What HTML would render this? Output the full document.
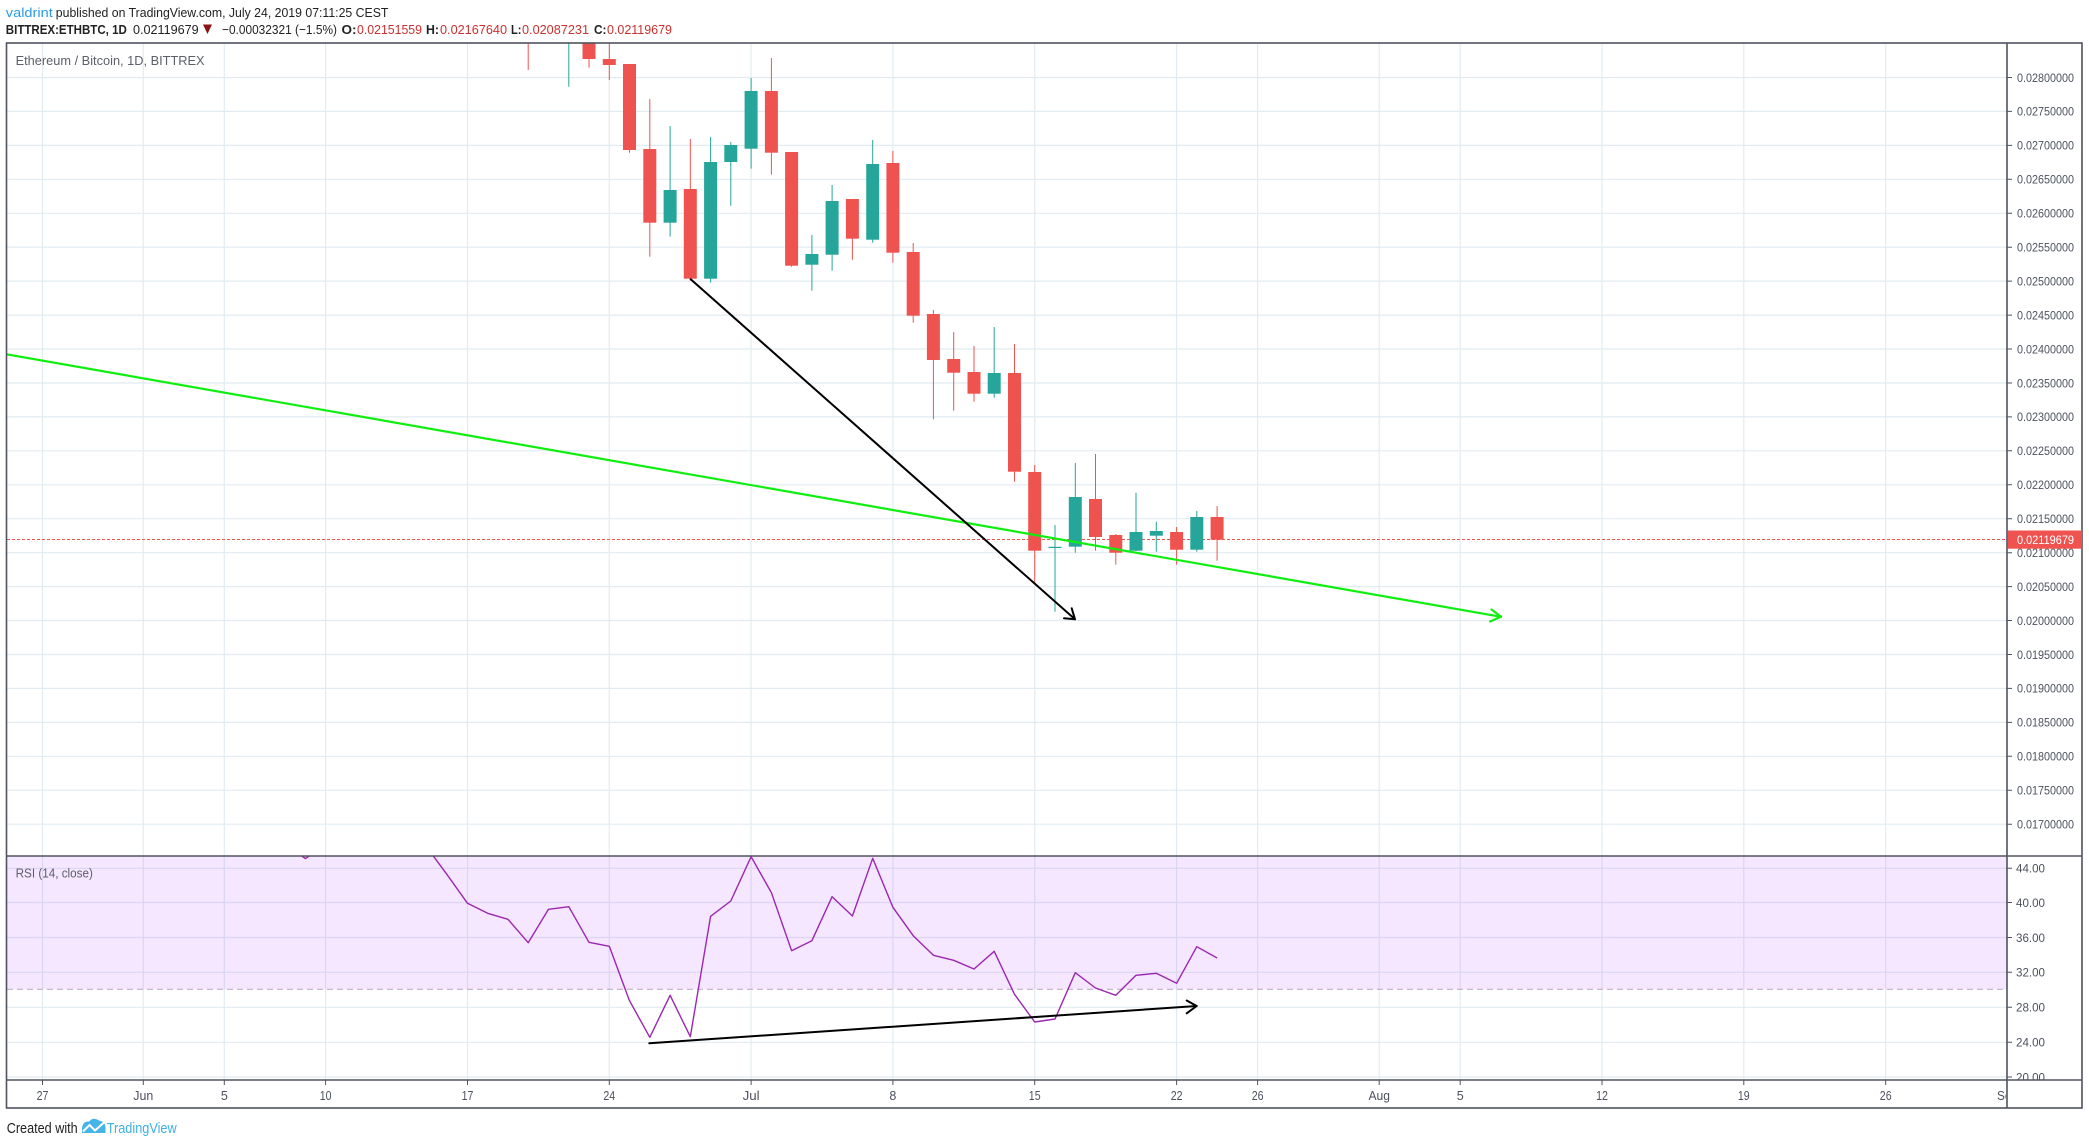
<!DOCTYPE html>
<html><head><meta charset="utf-8"><style>
html,body{margin:0;padding:0;background:#fff;}
svg{display:block;}
text{font-family:"Liberation Sans",sans-serif;}
</style></head><body>
<svg width="2089" height="1145" viewBox="0 0 2089 1145" xmlns="http://www.w3.org/2000/svg">
<defs>
<clipPath id="cp"><rect x="7" y="43.5" width="2000" height="812.5"/></clipPath>
<clipPath id="cr"><rect x="7" y="856.5" width="2000" height="223.5"/></clipPath>
<clipPath id="ct"><rect x="7" y="1080" width="1999" height="28"/></clipPath>
<clipPath id="cra"><rect x="2008" y="856.5" width="74" height="223.5"/></clipPath>
</defs>
<rect width="2089" height="1145" fill="#fff"/>

<!-- header -->
<text x="5.8" y="17" font-size="13" fill="#2b9be6" textLength="47" lengthAdjust="spacingAndGlyphs">valdrint</text>
<text x="55.8" y="17" font-size="13" fill="#222" textLength="332.6" lengthAdjust="spacingAndGlyphs">published on TradingView.com, July 24, 2019 07:11:25 CEST</text>
<text x="5.8" y="34" font-size="13" font-weight="bold" fill="#222" textLength="121" lengthAdjust="spacingAndGlyphs">BITTREX:ETHBTC, 1D</text>
<text x="133" y="34" font-size="13" fill="#222" textLength="65.7" lengthAdjust="spacingAndGlyphs">0.02119679</text>
<polygon points="203,24.5 212,24.5 207.5,34" fill="#8b1414"/>
<text x="222" y="34" font-size="13" fill="#222" textLength="115" lengthAdjust="spacingAndGlyphs">−0.00032321 (−1.5%)</text>
<text x="341.5" y="34" font-size="13" font-weight="bold" fill="#222" textLength="15" lengthAdjust="spacingAndGlyphs">O:</text>
<text x="357" y="34" font-size="13" fill="#cc2f2f" textLength="65" lengthAdjust="spacingAndGlyphs">0.02151559</text>
<text x="426" y="34" font-size="13" font-weight="bold" fill="#222" textLength="13" lengthAdjust="spacingAndGlyphs">H:</text>
<text x="440" y="34" font-size="13" fill="#cc2f2f" textLength="67" lengthAdjust="spacingAndGlyphs">0.02167640</text>
<text x="511" y="34" font-size="13" font-weight="bold" fill="#222" textLength="10.5" lengthAdjust="spacingAndGlyphs">L:</text>
<text x="522" y="34" font-size="13" fill="#cc2f2f" textLength="67" lengthAdjust="spacingAndGlyphs">0.02087231</text>
<text x="594" y="34" font-size="13" font-weight="bold" fill="#222" textLength="12.5" lengthAdjust="spacingAndGlyphs">C:</text>
<text x="607" y="34" font-size="13" fill="#cc2f2f" textLength="65" lengthAdjust="spacingAndGlyphs">0.02119679</text>

<!-- grid price pane -->
<g stroke="#e1ecf2" stroke-width="1.2" clip-path="url(#cp)">
<line x1="7" x2="2007" y1="77.5" y2="77.5"/><line x1="7" x2="2007" y1="111.4" y2="111.4"/><line x1="7" x2="2007" y1="145.4" y2="145.4"/><line x1="7" x2="2007" y1="179.3" y2="179.3"/><line x1="7" x2="2007" y1="213.3" y2="213.3"/><line x1="7" x2="2007" y1="247.2" y2="247.2"/><line x1="7" x2="2007" y1="281.1" y2="281.1"/><line x1="7" x2="2007" y1="315.1" y2="315.1"/><line x1="7" x2="2007" y1="349" y2="349"/><line x1="7" x2="2007" y1="383" y2="383"/><line x1="7" x2="2007" y1="416.9" y2="416.9"/><line x1="7" x2="2007" y1="450.8" y2="450.8"/><line x1="7" x2="2007" y1="484.8" y2="484.8"/><line x1="7" x2="2007" y1="518.7" y2="518.7"/><line x1="7" x2="2007" y1="552.7" y2="552.7"/><line x1="7" x2="2007" y1="586.6" y2="586.6"/><line x1="7" x2="2007" y1="620.5" y2="620.5"/><line x1="7" x2="2007" y1="654.5" y2="654.5"/><line x1="7" x2="2007" y1="688.4" y2="688.4"/><line x1="7" x2="2007" y1="722.4" y2="722.4"/><line x1="7" x2="2007" y1="756.3" y2="756.3"/><line x1="7" x2="2007" y1="790.2" y2="790.2"/><line x1="7" x2="2007" y1="824.2" y2="824.2"/>
</g>
<g stroke="#e1ecf2" stroke-width="1.2">
<path d="M42.5 43V1080M143.3 43V1080M224.3 43V1080M325.6 43V1080M467.5 43V1080M609.3 43V1080M751.1 43V1080M892.9 43V1080M1034.7 43V1080M1176.6 43V1080M1257.6 43V1080M1379.2 43V1080M1460.2 43V1080M1602 43V1080M1743.8 43V1080M1885.7 43V1080"/>
</g>
<!-- RSI grid -->
<g stroke="#e1ecf2" stroke-width="1.2">
<line x1="7" x2="2007" y1="868.3" y2="868.3"/><line x1="7" x2="2007" y1="902.5" y2="902.5"/><line x1="7" x2="2007" y1="937.5" y2="937.5"/><line x1="7" x2="2007" y1="972.3" y2="972.3"/><line x1="7" x2="2007" y1="1007.3" y2="1007.3"/><line x1="7" x2="2007" y1="1042.3" y2="1042.3"/><line x1="7" x2="2007" y1="1077" y2="1077"/>
</g>
<rect x="7" y="856.5" width="2000" height="132.8" fill="rgb(153,21,255)" fill-opacity="0.1"/>
<line x1="7" x2="2007" y1="989.3" y2="989.3" stroke="#bfb0c6" stroke-width="1.2" stroke-dasharray="6 4"/>

<!-- price line -->
<line x1="7" x2="2007" y1="539.5" y2="539.5" stroke="#ef5350" stroke-width="1" stroke-dasharray="3 2"/>

<!-- candles -->
<g clip-path="url(#cp)">
<g fill="#ef5350">
<rect x="527.7" y="0" width="1" height="70"/><rect x="521.7" y="0" width="13" height="30"/>
<rect x="588.5" y="0" width="1" height="67.7"/><rect x="582.5" y="0" width="13" height="59"/>
<rect x="608.8" y="0" width="1" height="80"/><rect x="602.8" y="59" width="13" height="6"/>
<rect x="629" y="64" width="1" height="88.7"/><rect x="623" y="64" width="13" height="86"/>
<rect x="649.3" y="99" width="1" height="157.7"/><rect x="643.3" y="149" width="13" height="73.7"/>
<rect x="689.8" y="139" width="1" height="141.7"/><rect x="683.8" y="189" width="13" height="89.7"/>
<rect x="770.9" y="58" width="1" height="116.7"/><rect x="764.9" y="91" width="13" height="61.7"/>
<rect x="791.1" y="152" width="1" height="114.7"/><rect x="785.1" y="152" width="13" height="113.7"/>
<rect x="851.9" y="199" width="1" height="60.7"/><rect x="845.9" y="199" width="13" height="39.7"/>
<rect x="892.4" y="151" width="1" height="111.7"/><rect x="886.4" y="163" width="13" height="89.7"/>
<rect x="912.7" y="243" width="1" height="79.7"/><rect x="906.7" y="252" width="13" height="63.7"/>
<rect x="932.9" y="310" width="1" height="109.3"/><rect x="926.9" y="314" width="13" height="46"/>
<rect x="953.2" y="332" width="1" height="78.7"/><rect x="947.2" y="359" width="13" height="13.7"/>
<rect x="973.5" y="346" width="1" height="55.7"/><rect x="967.5" y="372" width="13" height="21.7"/>
<rect x="1014" y="344" width="1" height="137.7"/><rect x="1008" y="373" width="13" height="98.7"/>
<rect x="1034.2" y="465" width="1" height="118.3"/><rect x="1028.2" y="472" width="13" height="78.7"/>
<rect x="1095" y="454" width="1" height="96.7"/><rect x="1089" y="499" width="13" height="38"/>
<rect x="1115.3" y="534" width="1" height="30.7"/><rect x="1109.3" y="535" width="13" height="17.7"/>
<rect x="1176.1" y="527" width="1" height="37.7"/><rect x="1170.1" y="532" width="13" height="17.7"/>
<rect x="1216.6" y="506" width="1" height="54.7"/><rect x="1210.6" y="517" width="13" height="22.7"/>
</g>
<g fill="#26a69a">
<rect x="568.3" y="0" width="1" height="86.7"/><rect x="562.3" y="0" width="13" height="35"/>
<rect x="669.6" y="126" width="1" height="110.7"/><rect x="663.6" y="190" width="13" height="32.7"/>
<rect x="710.1" y="137" width="1" height="145.7"/><rect x="704.1" y="162" width="13" height="116.7"/>
<rect x="730.3" y="142" width="1" height="63.7"/><rect x="724.3" y="145" width="13" height="17"/>
<rect x="750.6" y="78" width="1" height="90.7"/><rect x="744.6" y="91" width="13" height="57.7"/>
<rect x="811.4" y="235" width="1" height="55.7"/><rect x="805.4" y="254" width="13" height="10.7"/>
<rect x="831.6" y="185" width="1" height="85.7"/><rect x="825.6" y="201" width="13" height="53.7"/>
<rect x="872.2" y="140" width="1" height="102.7"/><rect x="866.2" y="164" width="13" height="75.7"/>
<rect x="993.7" y="327" width="1" height="70.7"/><rect x="987.7" y="373" width="13" height="20.7"/>
<rect x="1054.5" y="525" width="1" height="86.7"/><rect x="1048.5" y="546.8" width="13" height="1.2"/>
<rect x="1074.8" y="463" width="1" height="89.7"/><rect x="1068.8" y="497" width="13" height="49.7"/>
<rect x="1135.5" y="492.7" width="1" height="58.3"/><rect x="1129.5" y="532" width="13" height="18.7"/>
<rect x="1155.8" y="521.7" width="1" height="30"/><rect x="1149.8" y="531" width="13" height="4.7"/>
<rect x="1196.3" y="511" width="1" height="40.7"/><rect x="1190.3" y="517" width="13" height="32.7"/>
</g>
<!-- green trend line -->
<g stroke="#0fef0f" stroke-width="2.2" fill="none" stroke-linecap="round" stroke-linejoin="round">
<line x1="0" y1="353.2" x2="1501" y2="616.8"/>
<polyline points="1491.5,609.5 1501,616.8 1490,621.5"/>
</g>
<!-- black arrow -->
<g stroke="#000" stroke-width="2" fill="none" stroke-linecap="round" stroke-linejoin="round">
<line x1="690.7" y1="279.3" x2="1075" y2="619.3"/>
<polyline points="1064,618.3 1075,619.3 1071.7,608.3"/>
</g>
</g>

<!-- RSI line -->
<g clip-path="url(#cr)">
<polyline fill="none" stroke="#9c27b0" stroke-width="1.4" stroke-linejoin="round" points="285.1,845 305.4,858.5 325.6,845 345.9,840 366.2,840 386.4,840 406.7,840 426.9,847.4 447.2,874.8 467.5,903.3 487.7,913.3 508,919.3 528.2,942.7 548.5,909.3 568.8,906.7 589,942.3 609.3,946.3 629.5,1000.7 649.8,1037.3 670.1,995.3 690.3,1036.7 710.6,916.3 730.8,901 751.1,856.7 771.4,892.7 791.6,950.7 811.9,940.7 832.1,896.7 852.4,916 872.7,858.3 892.9,907.3 913.2,935.7 933.4,955.3 953.7,960.3 974,969 994.2,951.3 1014.5,994.3 1034.7,1022 1055,1019 1075.3,972.7 1095.5,988 1115.8,995.3 1136,975.3 1156.3,973.3 1176.6,983.3 1196.8,946.7 1217.1,958"/>
<g stroke="#000" stroke-width="2" fill="none" stroke-linecap="round" stroke-linejoin="round">
<line x1="649.3" y1="1043.3" x2="1196.7" y2="1006"/>
<polyline points="1186.7,1000.5 1196.7,1006 1186.7,1013.3"/>
</g>
</g>

<text x="15.6" y="65" font-size="13" fill="#5d606b" textLength="189" lengthAdjust="spacingAndGlyphs">Ethereum / Bitcoin, 1D, BITTREX</text>
<text x="15.6" y="877.5" font-size="12.5" fill="#5d606b" textLength="77.3" lengthAdjust="spacingAndGlyphs">RSI (14, close)</text>

<!-- frame -->
<g stroke="#50535e" stroke-width="1.6" fill="none">
<rect x="6.5" y="43" width="2075.5" height="1065"/>
<line x1="2007" y1="43" x2="2007" y2="1108"/>
<line x1="6.5" y1="856" x2="2082" y2="856"/>
<line x1="6.5" y1="1080" x2="2082" y2="1080"/>
</g>

<!-- price axis ticks & labels -->
<g stroke="#50535e" stroke-width="1">
<path d="M2007 77.5h5M2007 111.4h5M2007 145.4h5M2007 179.3h5M2007 213.3h5M2007 247.2h5M2007 281.1h5M2007 315.1h5M2007 349h5M2007 383h5M2007 416.9h5M2007 450.8h5M2007 484.8h5M2007 518.7h5M2007 552.7h5M2007 586.6h5M2007 620.5h5M2007 654.5h5M2007 688.4h5M2007 722.4h5M2007 756.3h5M2007 790.2h5M2007 824.2h5"/>
<path d="M2007 868.3h5M2007 902.5h5M2007 937.5h5M2007 972.3h5M2007 1007.3h5M2007 1042.3h5M2007 1077h5"/>
<path d="M42.5 1080v5M143.3 1080v5M224.3 1080v5M325.6 1080v5M467.5 1080v5M609.3 1080v5M751.1 1080v5M892.9 1080v5M1034.7 1080v5M1176.6 1080v5M1257.6 1080v5M1379.2 1080v5M1460.2 1080v5M1602 1080v5M1743.8 1080v5M1885.7 1080v5"/>
</g>
<g font-size="12" fill="#4c525e">
<text x="2017" y="81.8" textLength="57" lengthAdjust="spacingAndGlyphs">0.02800000</text>
<text x="2017" y="115.7" textLength="57" lengthAdjust="spacingAndGlyphs">0.02750000</text>
<text x="2017" y="149.7" textLength="57" lengthAdjust="spacingAndGlyphs">0.02700000</text>
<text x="2017" y="183.6" textLength="57" lengthAdjust="spacingAndGlyphs">0.02650000</text>
<text x="2017" y="217.6" textLength="57" lengthAdjust="spacingAndGlyphs">0.02600000</text>
<text x="2017" y="251.5" textLength="57" lengthAdjust="spacingAndGlyphs">0.02550000</text>
<text x="2017" y="285.4" textLength="57" lengthAdjust="spacingAndGlyphs">0.02500000</text>
<text x="2017" y="319.4" textLength="57" lengthAdjust="spacingAndGlyphs">0.02450000</text>
<text x="2017" y="353.3" textLength="57" lengthAdjust="spacingAndGlyphs">0.02400000</text>
<text x="2017" y="387.3" textLength="57" lengthAdjust="spacingAndGlyphs">0.02350000</text>
<text x="2017" y="421.2" textLength="57" lengthAdjust="spacingAndGlyphs">0.02300000</text>
<text x="2017" y="455.1" textLength="57" lengthAdjust="spacingAndGlyphs">0.02250000</text>
<text x="2017" y="489.1" textLength="57" lengthAdjust="spacingAndGlyphs">0.02200000</text>
<text x="2017" y="523" textLength="57" lengthAdjust="spacingAndGlyphs">0.02150000</text>
<text x="2017" y="557" textLength="57" lengthAdjust="spacingAndGlyphs">0.02100000</text>
<text x="2017" y="590.9" textLength="57" lengthAdjust="spacingAndGlyphs">0.02050000</text>
<text x="2017" y="624.8" textLength="57" lengthAdjust="spacingAndGlyphs">0.02000000</text>
<text x="2017" y="658.8" textLength="57" lengthAdjust="spacingAndGlyphs">0.01950000</text>
<text x="2017" y="692.7" textLength="57" lengthAdjust="spacingAndGlyphs">0.01900000</text>
<text x="2017" y="726.7" textLength="57" lengthAdjust="spacingAndGlyphs">0.01850000</text>
<text x="2017" y="760.6" textLength="57" lengthAdjust="spacingAndGlyphs">0.01800000</text>
<text x="2017" y="794.5" textLength="57" lengthAdjust="spacingAndGlyphs">0.01750000</text>
<text x="2017" y="828.5" textLength="57" lengthAdjust="spacingAndGlyphs">0.01700000</text>
</g>
<rect x="2007.5" y="530.5" width="74.5" height="18.2" fill="#ef5350"/>
<text x="2017" y="544" font-size="12" fill="#fff" textLength="57" lengthAdjust="spacingAndGlyphs">0.02119679</text>

<g font-size="12" fill="#4c525e" clip-path="url(#cra)">
<text x="2016" y="872.6" textLength="29" lengthAdjust="spacingAndGlyphs">44.00</text>
<text x="2016" y="906.8" textLength="29" lengthAdjust="spacingAndGlyphs">40.00</text>
<text x="2016" y="941.8" textLength="29" lengthAdjust="spacingAndGlyphs">36.00</text>
<text x="2016" y="976.6" textLength="29" lengthAdjust="spacingAndGlyphs">32.00</text>
<text x="2016" y="1011.6" textLength="29" lengthAdjust="spacingAndGlyphs">28.00</text>
<text x="2016" y="1046.6" textLength="29" lengthAdjust="spacingAndGlyphs">24.00</text>
<text x="2016" y="1081.3" textLength="29" lengthAdjust="spacingAndGlyphs">20.00</text>
</g>

<!-- time labels -->
<g font-size="12.5" fill="#4c525e" text-anchor="middle" clip-path="url(#ct)">
<text x="42.5" y="1100" textLength="11.8" lengthAdjust="spacingAndGlyphs">27</text>
<text x="143.3" y="1100" textLength="20" lengthAdjust="spacingAndGlyphs">Jun</text>
<text x="224.3" y="1100">5</text>
<text x="325.6" y="1100" textLength="11.8" lengthAdjust="spacingAndGlyphs">10</text>
<text x="467.5" y="1100" textLength="11.8" lengthAdjust="spacingAndGlyphs">17</text>
<text x="609.3" y="1100" textLength="11.8" lengthAdjust="spacingAndGlyphs">24</text>
<text x="751.1" y="1100" textLength="17" lengthAdjust="spacingAndGlyphs">Jul</text>
<text x="892.9" y="1100">8</text>
<text x="1034.7" y="1100" textLength="11.8" lengthAdjust="spacingAndGlyphs">15</text>
<text x="1176.6" y="1100" textLength="11.8" lengthAdjust="spacingAndGlyphs">22</text>
<text x="1257.6" y="1100" textLength="11.8" lengthAdjust="spacingAndGlyphs">26</text>
<text x="1379.2" y="1100" textLength="21.5" lengthAdjust="spacingAndGlyphs">Aug</text>
<text x="1460.2" y="1100">5</text>
<text x="1602" y="1100" textLength="11.8" lengthAdjust="spacingAndGlyphs">12</text>
<text x="1743.8" y="1100" textLength="11.8" lengthAdjust="spacingAndGlyphs">19</text>
<text x="1885.7" y="1100" textLength="11.8" lengthAdjust="spacingAndGlyphs">26</text>
<text x="2007.5" y="1100" textLength="21" lengthAdjust="spacingAndGlyphs">Sep</text>
</g>

<!-- footer -->
<text x="6.7" y="1132.8" font-size="14.5" fill="#222" textLength="71" lengthAdjust="spacingAndGlyphs">Created with</text>
<path d="M82,1133 L82,1128 Q83,1121 89,1121.5 Q93,1116.5 99,1120.5 Q105.5,1121.5 105.5,1128 L105.5,1133 Z" fill="#46b4e6"/>
<polyline points="83,1131.5 89.5,1125 95,1130.5 104.5,1122" fill="none" stroke="#fff" stroke-width="2"/>
<text x="106.7" y="1132.8" font-size="14.5" fill="#3db1e4" textLength="70" lengthAdjust="spacingAndGlyphs">TradingView</text>
</svg>
</body></html>
